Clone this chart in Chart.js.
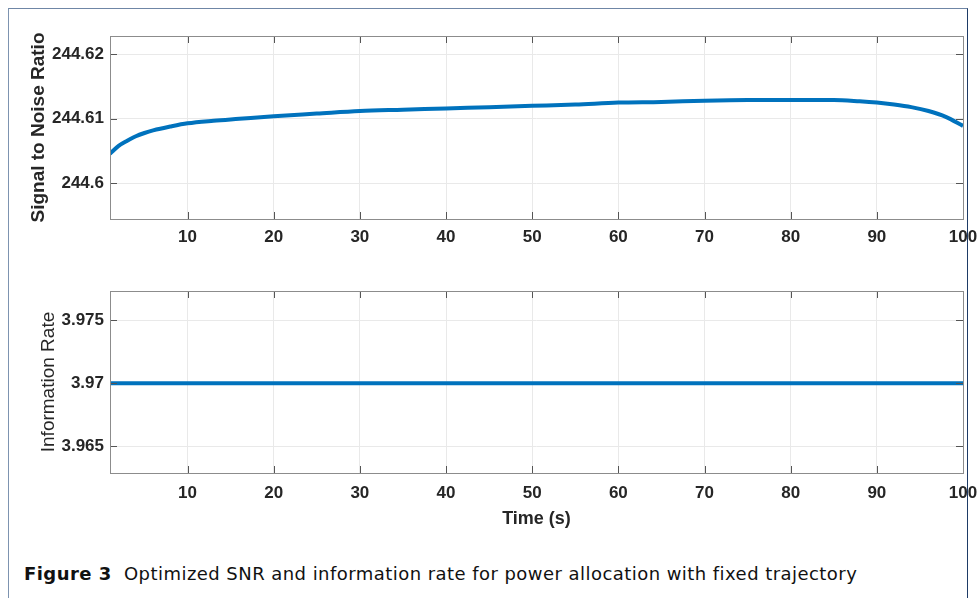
<!DOCTYPE html>
<html>
<head>
<meta charset="utf-8">
<script src="https://cdn.jsdelivr.net/npm/chart.js@4.4.1/dist/chart.umd.min.js"></script>
<style>
  html, body { margin: 0; padding: 0; background: #fff; }
  body { width: 979px; height: 598px; position: relative; overflow: hidden; }
  .frame {
    position: absolute; left: 8px; top: 8px; width: 960px; height: 620px;
    border-left: 1.5px solid #7d93b0; border-top: 1.5px solid #6f86a6;
    border-right: 1.5px solid #1e3b66; box-sizing: border-box;
  }
  .plot { position: absolute; left: 0; }
  #top-wrap { top: 0; width: 979px; height: 260px; }
  #bottom-wrap { top: 260px; width: 979px; height: 270px; }
  .caption {
    position: absolute; left: 24px; top: 563px;
    font-family: "DejaVu Sans", sans-serif; font-size: 18px; color: #111;
    letter-spacing: 0.45px; white-space: nowrap;
  }
  .caption b { font-weight: bold; }
</style>
</head>
<body>
<div class="frame"></div>
<div class="plot" id="top-wrap"><canvas id="chart-snr" width="979" height="260"></canvas></div>
<div class="plot" id="bottom-wrap"><canvas id="chart-rate" width="979" height="270"></canvas></div>
<div class="caption"><b>Figure 3</b>&nbsp; Optimized SNR and information rate for power allocation with fixed trajectory</div>

<script>
// time samples (s)
var time_s = [1, 2, 3, 4, 5, 6, 8, 10, 13, 16, 20, 25, 30, 35, 40, 45, 50, 55, 60, 65, 70, 75, 80, 85, 88, 90, 92, 94, 96, 98, 100];
var snr = [244.6046, 244.6058, 244.6066, 244.6073, 244.6078, 244.6082, 244.6088, 244.6093, 244.6097, 244.6100,
  244.6104, 244.6108, 244.6112, 244.6114, 244.6116, 244.6118, 244.6120, 244.6122, 244.6125, 244.6126,
  244.6128, 244.6129, 244.6129, 244.6129, 244.6127, 244.6125, 244.6122, 244.6118, 244.6112, 244.6103, 244.6089];
var info_rate = [3.97, 3.97, 3.97, 3.97, 3.97, 3.97, 3.97, 3.97, 3.97, 3.97,
  3.97, 3.97, 3.97, 3.97, 3.97, 3.97, 3.97, 3.97, 3.97, 3.97,
  3.97, 3.97, 3.97, 3.97, 3.97, 3.97, 3.97, 3.97, 3.97, 3.97, 3.97];

var x_ticks = [10, 20, 30, 40, 50, 60, 70, 80, 90, 100];
var snr_ticks = [244.6, 244.61, 244.62];
var snr_tick_labels = ["244.6", "244.61", "244.62"];
var rate_ticks = [3.965, 3.97, 3.975];
var rate_tick_labels = ["3.965", "3.97", "3.975"];

var FONT = "'Liberation Sans', Arial, sans-serif";

// MATLAB style box with inward ticks
var boxPlugin = {
  id: "matlabBox",
  afterDraw: function (chart) {
    var ctx = chart.ctx, a = chart.chartArea;
    var xs = chart.scales.x, ys = chart.scales.y;
    ctx.save();
    ctx.strokeStyle = "#555";
    ctx.lineWidth = 1;
    xs.ticks.forEach(function (t) {
      var px = Math.round(xs.getPixelForValue(t.value)) + 0.5;
      ctx.beginPath();
      ctx.moveTo(px, a.bottom); ctx.lineTo(px, a.bottom - 7);
      ctx.moveTo(px, a.top); ctx.lineTo(px, a.top + 7);
      ctx.stroke();
    });
    ys.ticks.forEach(function (t) {
      var py = Math.round(ys.getPixelForValue(t.value)) + 0.5;
      ctx.beginPath();
      ctx.moveTo(a.left, py); ctx.lineTo(a.left + 7, py);
      ctx.moveTo(a.right, py); ctx.lineTo(a.right - 7, py);
      ctx.stroke();
    });
    ctx.strokeStyle = "#8c8c8c";
    ctx.strokeRect(Math.round(a.left) + 0.5, Math.round(a.top) + 0.5,
      Math.round(a.right - a.left), Math.round(a.bottom - a.top));
    ctx.restore();
  },
};

function makeChart(id, values, yMin, yMax, yTicks, yLabels, yTitle, yTitleBold, opts) {
  var ctx = document.getElementById(id).getContext("2d");
  return new Chart(ctx, {
    type: "line",
    data: {
      datasets: [
        {
          data: time_s.map(function (t, i) { return { x: t, y: values[i] }; }),
          borderColor: "#0072BD",
          borderWidth: 4,
          pointRadius: 0,
          cubicInterpolationMode: "monotone",
          fill: false,
        },
      ],
    },
    options: {
      responsive: false,
      animation: false,
      layout: { padding: { top: opts.padTop, right: 16, left: 0, bottom: 0 } },
      plugins: { legend: { display: false }, tooltip: { enabled: false } },
      scales: {
        x: {
          type: "linear",
          min: 1,
          max: 100,
          afterBuildTicks: function (s) { s.ticks = x_ticks.map(function (v) { return { value: v }; }); },
          afterFit: function (s) { s.height = opts.xHeight; s.paddingLeft = 0; s.paddingRight = 0; },
          grid: { color: "#e9e9e9", drawTicks: false },
          border: { display: false },
          ticks: {
            padding: opts.xPad,
            color: "#262626",
            font: { size: 17, weight: "bold", family: FONT },
            maxRotation: 0,
            callback: function (v) { return String(v); },
          },
          title: {
            display: !!opts.xTitle,
            text: opts.xTitle || "",
            color: "#262626",
            font: { size: 18, weight: "bold", family: FONT },
            padding: { top: 4, bottom: 0 },
          },
        },
        y: {
          min: yMin,
          max: yMax,
          afterBuildTicks: function (s) { s.ticks = yTicks.map(function (v) { return { value: v }; }); },
          afterFit: function (s) { s.width = 110; s.paddingTop = 0; s.paddingBottom = 0; },
          grid: { color: "#e9e9e9", drawTicks: false },
          border: { display: false },
          ticks: {
            padding: 6,
            color: "#262626",
            font: { size: 17, weight: "bold", family: FONT },
            callback: function (v) { return yLabels[yTicks.indexOf(v)]; },
          },
          title: {
            display: true,
            text: yTitle,
            color: "#262626",
            font: { size: 19, weight: yTitleBold ? "bold" : "normal", family: FONT },
            padding: { top: opts.yTitlePad, bottom: 0 },
          },
        },
      },
    },
    plugins: [boxPlugin],
  });
}

makeChart("chart-snr", snr, 244.5945, 244.6228, snr_ticks, snr_tick_labels,
  "Signal to Noise Ratio", true, { padTop: 36, xHeight: 41, xPad: 8, yTitlePad: 27 });

makeChart("chart-rate", info_rate, 3.9629, 3.9773, rate_ticks, rate_tick_labels,
  "Information Rate", false, { padTop: 31, xHeight: 57, xPad: 10, yTitlePad: 37, xTitle: "Time (s)" });
</script>
</body>
</html>
